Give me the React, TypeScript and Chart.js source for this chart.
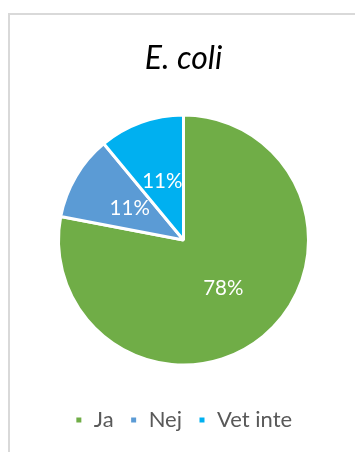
import React, { useEffect, useRef } from "react";
import { Chart, registerables } from "chart.js";

Chart.register(...registerables);

const chartTitle = "E. coli";
const categories = ["Ja", "Nej", "Vet inte"];
const percentValues = [78, 11, 11];
const sliceColors = ["#70AD47", "#5B9BD5", "#00B0F0"];

const FONT = "Lato, 'Open Sans', sans-serif";

const percentLabels = {
  id: "percentLabels",
  afterDatasetsDraw(chart: any) {
    const { ctx } = chart;
    const meta = chart.getDatasetMeta(0);
    const ds = chart.data.datasets[0];
    ctx.save();
    ctx.font = `20.5px ${FONT}`;
    ctx.fillStyle = "#ffffff";
    ctx.textAlign = "center";
    ctx.textBaseline = "middle";
    meta.data.forEach((arc: any, i: number) => {
      const p = arc.tooltipPosition();
      ctx.fillText(`${ds.data[i]}%`, p.x, p.y);
    });
    ctx.restore();
  },
};

export default function App() {
  const canvasRef = useRef<HTMLCanvasElement | null>(null);

  useEffect(() => {
    if (!canvasRef.current) return;
    const chart = new Chart(canvasRef.current, {
      type: "pie",
      data: {
        labels: categories,
        datasets: [
          {
            data: percentValues,
            backgroundColor: sliceColors,
            borderColor: "#ffffff",
            borderWidth: 3,
          },
        ],
      },
      options: {
        responsive: false,
        animation: false,
        devicePixelRatio: 1,
        layout: { padding: { top: 0, left: 57, right: 45, bottom: 11 } },
        plugins: {
          tooltip: { enabled: false },
          title: {
            display: true,
            text: chartTitle,
            color: "#000000",
            font: { family: FONT, size: 32, style: "italic", weight: "normal" },
            padding: { top: 39.5, bottom: 9.1 },
          },
          legend: {
            display: true,
            position: "bottom",
            labels: {
              color: "#595959",
              font: { family: FONT, size: 22 },
              boxWidth: 8,
              boxHeight: 8,
              padding: 16,
            },
          },
        },
      },
      plugins: [percentLabels],
    });
    return () => chart.destroy();
  }, []);

  return (
    <div style={{ position: "absolute", left: 0, top: 0, width: 355, height: 452, overflow: "hidden", background: "#fff" }}>
      <div
        style={{
          position: "absolute",
          left: 8,
          top: 13,
          width: 420,
          height: 520,
          border: "2px solid #d9d9d9",
          boxSizing: "border-box",
        }}
      />
      <canvas ref={canvasRef} width={355} height={452} style={{ position: "absolute", left: 0, top: 0, width: 355, height: 452 }} />
    </div>
  );
}
